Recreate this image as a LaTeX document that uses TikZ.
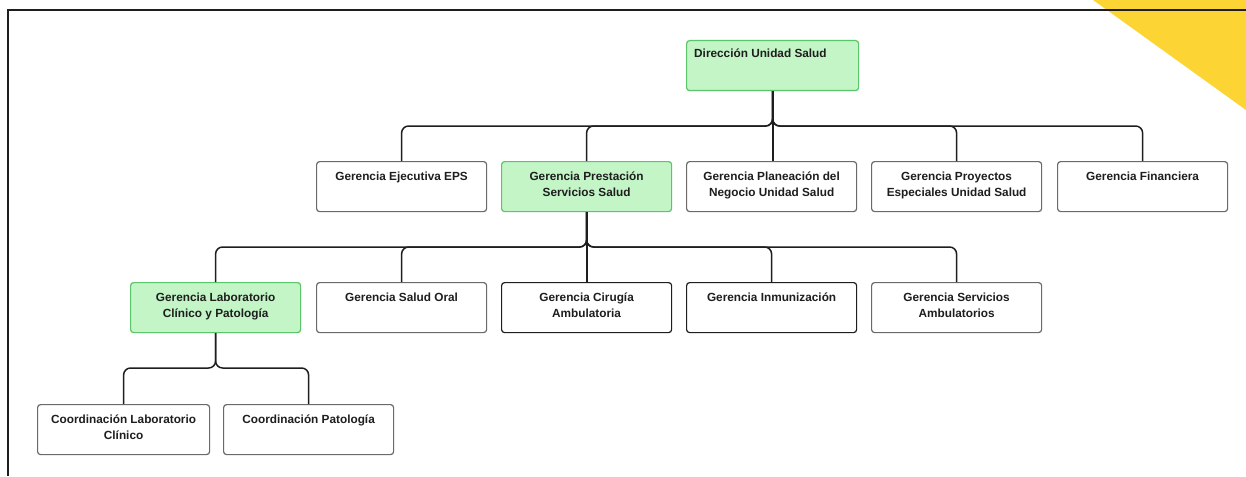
\documentclass[tikz,border=0pt]{standalone}
\usepackage{fontspec}
\setmainfont{Liberation Sans}
\definecolor{gfill}{HTML}{C3F5C7}
\definecolor{gdraw}{HTML}{5CC46A}
\definecolor{wdraw}{HTML}{6A6A6A}
\definecolor{ink}{HTML}{1E1E1E}
\definecolor{sun}{HTML}{FCD535}
\newcommand{\lbl}[1]{\begin{tabular}[t]{@{}c@{}}#1\end{tabular}}
\begin{document}
\begin{tikzpicture}[x=1pt,y=-1pt,
  box/.style={draw=wdraw,line width=1.2pt,fill=white,rounded corners=3pt,minimum width=170pt,minimum height=50pt,inner sep=0pt,anchor=north west},
  gbox/.style={box,draw=gdraw,fill=gfill},
  kbox/.style={box,draw=ink},
  txt/.style={anchor=base,inner sep=0pt,font=\fontsize{11.8}{16}\selectfont\bfseries,text=ink},
  conn/.style={draw=ink,line width=1.5pt,rounded corners=7pt,xshift=0.5pt,yshift=-0.5pt},
  sconn/.style={conn,line width=2pt}
]
\useasboundingbox (0,0) rectangle (1246,476);
\fill[white] (0,0) rectangle (1246,476);
\fill[sun] (1093,0) -- (1246,0) -- (1246,110) -- cycle;
\draw[ink,line width=1.3pt] (8,476) -- (8,10) -- (1246,10);

% boxes
\node[gbox,minimum width=172pt] (dir) at (686,40) {};
\node[box] (eps) at (316,161) {};
\node[gbox] (pre) at (501,161) {};
\node[box] (pla) at (686,161) {};
\node[box] (pro) at (871,161) {};
\node[box] (fin) at (1057,161) {};
\node[gbox] (lab) at (130,282) {};
\node[box] (ora) at (316,282) {};
\node[kbox] (cir) at (501,282) {};
\node[kbox] (inm) at (686,282) {};
\node[box] (ser) at (871,282) {};
\node[box,minimum width=172pt] (cla) at (37,404) {};
\node[box] (cpa) at (223,404) {};

% texts
\node[txt,anchor=base west] (tdir) at ([xshift=8pt,yshift=-18pt]dir.north west) {Dirección Unidad Salud};
\node[txt] (teps) at ([yshift=-19pt]eps.north) {\lbl{Gerencia Ejecutiva EPS}};
\node[txt] (tpre) at ([yshift=-19pt]pre.north) {\lbl{Gerencia Prestación\\Servicios Salud}};
\node[txt] (tpla) at ([yshift=-19pt]pla.north) {\lbl{Gerencia Planeación del\\Negocio Unidad Salud}};
\node[txt] (tpro) at ([yshift=-19pt]pro.north) {\lbl{Gerencia Proyectos\\Especiales Unidad Salud}};
\node[txt] (tfin) at ([yshift=-19pt]fin.north) {\lbl{Gerencia Financiera}};
\node[txt] (tlab) at ([yshift=-19pt]lab.north) {\lbl{Gerencia Laboratorio\\Clínico y Patología}};
\node[txt] (tora) at ([yshift=-19pt]ora.north) {\lbl{Gerencia Salud Oral}};
\node[txt] (tcir) at ([yshift=-19pt]cir.north) {\lbl{Gerencia Cirugía\\Ambulatoria}};
\node[txt] (tinm) at ([yshift=-19pt]inm.north) {\lbl{Gerencia Inmunización}};
\node[txt] (tser) at ([yshift=-19pt]ser.north) {\lbl{Gerencia Servicios\\Ambulatorios}};
\node[txt] (tcla) at ([yshift=-19pt]cla.north) {\lbl{Coordinación Laboratorio\\Clínico}};
\node[txt] (tcpa) at ([yshift=-19pt]cpa.north) {\lbl{Coordinación Patología}};

% connectors
\foreach \c in {eps,pre,pro,fin}
  \draw[conn] (dir.south) |- ([yshift=35pt]\c.north) -- (\c.north);
\draw[sconn] (dir.south) -- (dir.south |- pla.north);
\foreach \c in {lab,ora,inm,ser}
  \draw[conn] (pre.south) |- ([yshift=35pt]\c.north) -- (\c.north);
\draw[sconn] (pre.south) -- (pre.south |- cir.north);
\foreach \c in {cla,cpa}
  \draw[conn] (lab.south) |- ([yshift=36pt]\c.north) -- (\c.north);
\end{tikzpicture}
\end{document}
